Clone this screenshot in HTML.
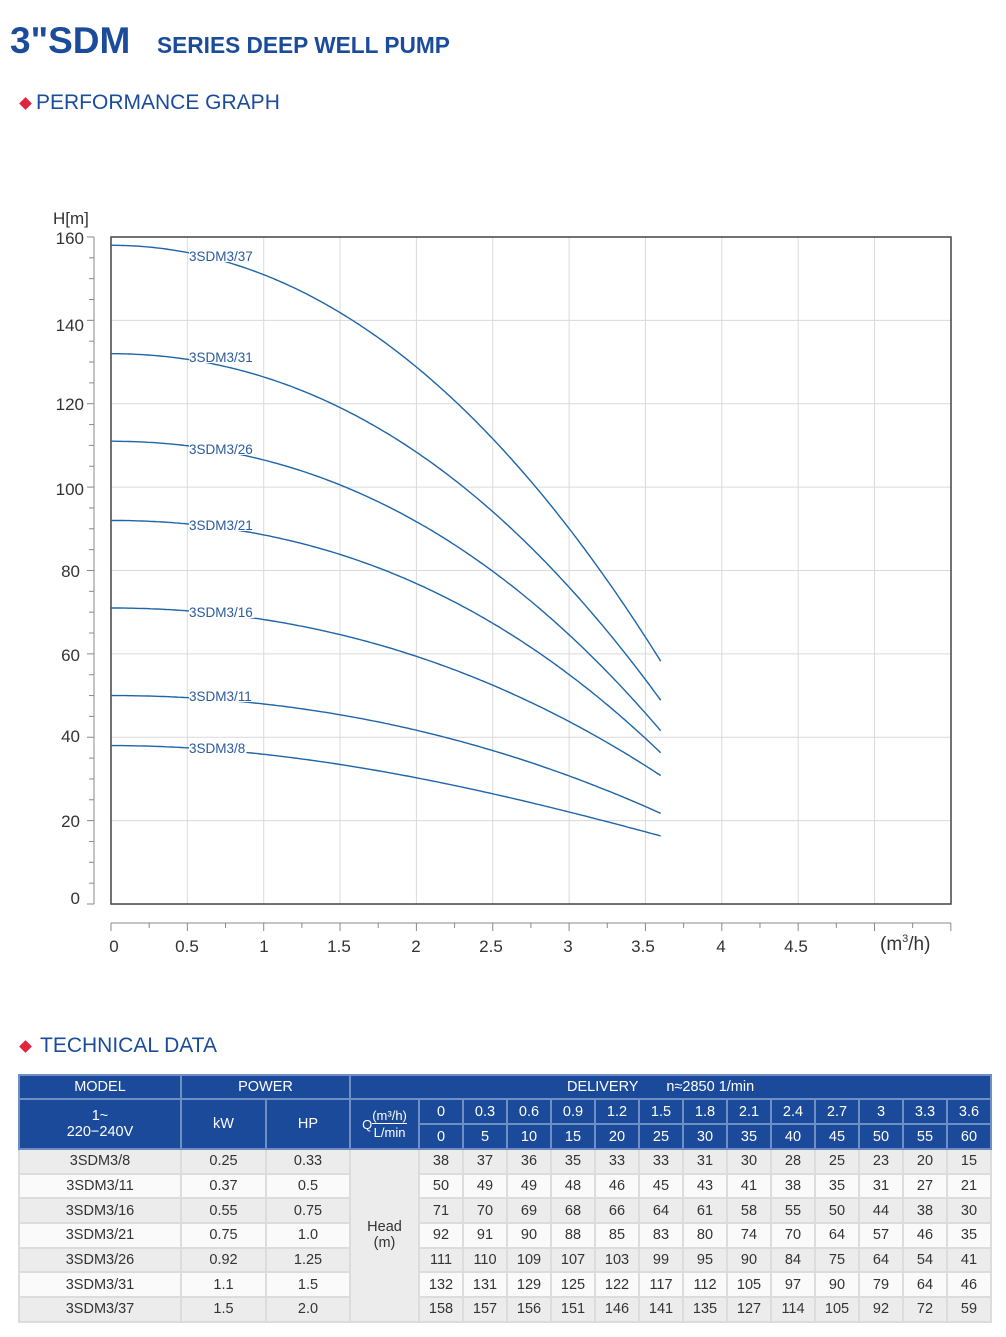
<!DOCTYPE html>
<html><head><meta charset="utf-8">
<style>
body{margin:0;width:1006px;height:1337px;background:#fff;position:relative;font-family:"Liberation Sans",sans-serif;overflow:hidden}
.a{position:absolute;white-space:nowrap}
.t1{left:10px;top:20px;font-size:37px;font-weight:bold;color:#1b4c9c}
.t2{left:157px;top:32px;font-size:22.7px;font-weight:bold;color:#1b4c9c}
.h{font-size:21px;color:#1b4c9c}
.dia{position:absolute;width:9px;height:9px;background:#e0263e;transform:rotate(45deg)}
table{position:absolute;left:18px;top:1074px;border-collapse:collapse;table-layout:fixed;font-size:14.5px;color:#333}
td{text-align:center;padding:0;border:2px solid #dcdcdc}
.hd td{background:#1b4a9a;color:#fff;border-color:#6f8fc4}
tr.g td{background:#ececec}
tr.w td{background:#fafafa}
tr.g,tr.w{height:24.7px}
td.head{background:#ececec!important}
</style></head><body>
<div class="a t1">3"SDM</div>
<div class="a t2">SERIES DEEP WELL PUMP</div>
<div class="dia" style="left:21px;top:99px"></div>
<div class="a h" style="left:36px;top:91px">PERFORMANCE GRAPH</div>
<div class="dia" style="left:21px;top:1042px"></div>
<div class="a h" style="left:40px;top:1034px">TECHNICAL DATA</div>

<svg class="a" style="left:0;top:0" width="1006" height="1000" id="sv" font-family="Liberation Sans, sans-serif">
<g id="grid" stroke="#dadada" stroke-width="1"></g>
<rect x="111" y="237" width="840" height="667" fill="none" stroke="#444" stroke-width="1.5"/>
<g id="ax" stroke="#888" stroke-width="1" fill="none"></g>
<g id="cv" stroke="#1d65a8" stroke-width="1.4" fill="none"></g>
<g font-size="17" fill="#333" text-anchor="end">
<text x="84" y="244">160</text><text x="84" y="331">140</text><text x="84" y="410">120</text><text x="84" y="495">100</text><text x="80" y="577">80</text><text x="80" y="661">60</text><text x="80" y="742">40</text><text x="80" y="827">20</text><text x="80" y="904">0</text>
</g>
<text x="53" y="224" font-size="17" fill="#333">H[m]</text>
<g font-size="17" fill="#333" text-anchor="middle">
<text x="114" y="952">0</text><text x="187" y="952">0.5</text><text x="264" y="952">1</text><text x="339" y="952">1.5</text><text x="416" y="952">2</text><text x="491" y="952">2.5</text><text x="568" y="952">3</text><text x="643" y="952">3.5</text><text x="721" y="952">4</text><text x="796" y="952">4.5</text>
</g>
<text x="880" y="950" font-size="19" fill="#333">(m<tspan font-size="11" dy="-8">3</tspan><tspan dy="8">/h)</tspan></text>
<g font-size="13.5" fill="#2a5aa0" id="lb"></g>
</svg>

<table>
<colgroup><col style="width:162px"><col style="width:85px"><col style="width:84px"><col style="width:69px"><col span="13" style="width:44px"></colgroup>
<tr class="hd" style="height:24px"><td>MODEL</td><td colspan="2">POWER</td><td colspan="14" style="text-align:left;padding-left:216px">DELIVERY &nbsp;&nbsp;&nbsp;&nbsp;&nbsp; n≈2850 1/min</td></tr>
<tr class="hd" style="height:25px"><td rowspan="2" style="line-height:16px">1~<br>220−240V</td><td rowspan="2">kW</td><td rowspan="2">HP</td><td rowspan="2" style="font-size:13px"><span style="display:inline-block;vertical-align:middle">Q</span><span style="display:inline-block;vertical-align:middle;line-height:17px"><span style="border-bottom:1px solid #fff">(m³/h)</span><br>L/min</span></td>
<td>0</td><td>0.3</td><td>0.6</td><td>0.9</td><td>1.2</td><td>1.5</td><td>1.8</td><td>2.1</td><td>2.4</td><td>2.7</td><td>3</td><td>3.3</td><td>3.6</td></tr>
<tr class="hd" style="height:25px"><td>0</td><td>5</td><td>10</td><td>15</td><td>20</td><td>25</td><td>30</td><td>35</td><td>40</td><td>45</td><td>50</td><td>55</td><td>60</td></tr>
<tr class="g"><td>3SDM3/8</td><td>0.25</td><td>0.33</td><td rowspan="7" class="head" style="line-height:16px">Head<br>(m)</td><td>38</td><td>37</td><td>36</td><td>35</td><td>33</td><td>33</td><td>31</td><td>30</td><td>28</td><td>25</td><td>23</td><td>20</td><td>15</td></tr>
<tr class="w"><td>3SDM3/11</td><td>0.37</td><td>0.5</td><td>50</td><td>49</td><td>49</td><td>48</td><td>46</td><td>45</td><td>43</td><td>41</td><td>38</td><td>35</td><td>31</td><td>27</td><td>21</td></tr>
<tr class="g"><td>3SDM3/16</td><td>0.55</td><td>0.75</td><td>71</td><td>70</td><td>69</td><td>68</td><td>66</td><td>64</td><td>61</td><td>58</td><td>55</td><td>50</td><td>44</td><td>38</td><td>30</td></tr>
<tr class="w"><td>3SDM3/21</td><td>0.75</td><td>1.0</td><td>92</td><td>91</td><td>90</td><td>88</td><td>85</td><td>83</td><td>80</td><td>74</td><td>70</td><td>64</td><td>57</td><td>46</td><td>35</td></tr>
<tr class="g"><td>3SDM3/26</td><td>0.92</td><td>1.25</td><td>111</td><td>110</td><td>109</td><td>107</td><td>103</td><td>99</td><td>95</td><td>90</td><td>84</td><td>75</td><td>64</td><td>54</td><td>41</td></tr>
<tr class="w"><td>3SDM3/31</td><td>1.1</td><td>1.5</td><td>132</td><td>131</td><td>129</td><td>125</td><td>122</td><td>117</td><td>112</td><td>105</td><td>97</td><td>90</td><td>79</td><td>64</td><td>46</td></tr>
<tr class="g"><td>3SDM3/37</td><td>1.5</td><td>2.0</td><td>158</td><td>157</td><td>156</td><td>151</td><td>146</td><td>141</td><td>135</td><td>127</td><td>114</td><td>105</td><td>92</td><td>72</td><td>59</td></tr>
</table>

<script>
var NS="http://www.w3.org/2000/svg";
function el(p,t,a){var e=document.createElementNS(NS,t);for(var k in a)e.setAttribute(k,a[k]);document.getElementById(p).appendChild(e);return e;}
function X(q){return 111+q*152.7}
function Y(h){return 904-h*4.169}
for(var i=1;i<11;i++){var x=X(i*0.5);el("grid","line",{x1:x,y1:237,x2:x,y2:904});}
for(var h=20;h<160;h+=20){el("grid","line",{x1:111,y1:Y(h),x2:951,y2:Y(h)});}
el("ax","line",{x1:94,y1:Y(0),x2:94,y2:Y(160)});
for(var h=0;h<=160;h+=5){el("ax","line",{x1:h%20==0?87:89,y1:Y(h),x2:94,y2:Y(h)});}
el("ax","line",{x1:111,y1:923,x2:951,y2:923});
for(var q=0;q<=5.5001;q+=0.25){el("ax","line",{x1:X(q),y1:923,x2:X(q),y2:Math.abs(q*2-Math.round(q*2))<0.01?931:928});}
var D=[[38,37,36,35,33,33,31,30,28,25,23,20,15],[50,49,49,48,46,45,43,41,38,35,31,27,21],[71,70,69,68,66,64,61,58,55,50,44,38,30],[92,91,90,88,85,83,80,74,70,64,57,46,35],[111,110,109,107,103,99,95,90,84,75,64,54,41],[132,131,129,125,122,117,112,105,97,90,79,64,46],[158,157,156,151,146,141,135,127,114,105,92,72,59]];
var names=["3SDM3/8","3SDM3/11","3SDM3/16","3SDM3/21","3SDM3/26","3SDM3/31","3SDM3/37"];
var LY=[748,696,612,525,449,357,256];
function fit(r){
 var h0=r[0],a11=0,a12=0,a22=0,b1=0,b2=0;
 r.forEach(function(h,k){var q=k*0.3,u=q*q,v=q*q*q,y=h-h0;a11+=u*u;a12+=u*v;a22+=v*v;b1+=u*y;b2+=v*y;});
 var det=a11*a22-a12*a12,c2=(b1*a22-b2*a12)/det,c3=(a11*b2-a12*b1)/det;
 return function(q){return h0+c2*q*q+c3*q*q*q};
}
D.forEach(function(r,k){
 var f=fit(r);var d="";
 for(var q=0;q<=3.6001;q+=0.02){d+=(q==0?"M":"L")+X(q).toFixed(1)+","+Y(f(q)).toFixed(1)+" ";}
 el("cv","path",{d:d});
 var yl=LY[k];
 el("lb","rect",{x:189,y:yl-7,width:(names[k].length*8.2),height:13,fill:"#fff"});
 var t=el("lb","text",{x:189,y:yl+5});t.textContent=names[k];
});
</script>
</body></html>
